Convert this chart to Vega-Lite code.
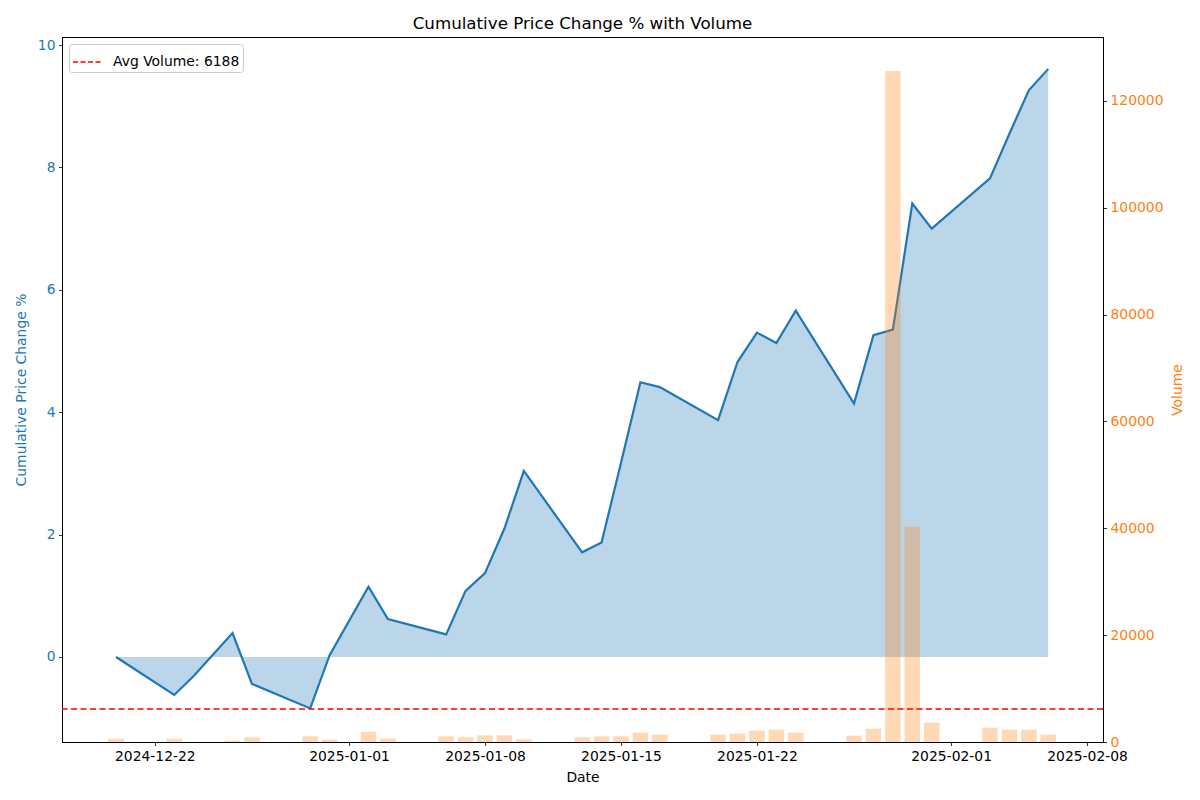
{
  "$schema": "https://vega.github.io/schema/vega-lite/v6.json",
  "width": 1041,
  "height": 705,
  "autosize": {"type": "none"},
  "padding": {"left": 62, "top": 37, "right": 97, "bottom": 58},
  "background": "white",
  "title": {"text": "Cumulative Price Change % with Volume", "fontSize": 16.7, "font": "DejaVu Sans", "fontWeight": "normal", "color": "black", "offset": 4},
  "config": {
    "font": "DejaVu Sans",
    "view": {"stroke": "black", "strokeWidth": 1},
    "axis": {"grid": false, "domainColor": "black", "domainWidth": 1, "tickColor": "black", "tickSize": 3.5, "tickWidth": 0.8, "labelFontSize": 13.9, "titleFontSize": 13.9, "titleFontWeight": "normal", "labelPadding": 3.5, "labelFont": "DejaVu Sans", "titleFont": "DejaVu Sans"}
  },
  "datasets": {
    "prices": [
      {"date": "2024-12-20", "pct": 0.0, "volume": 625},
      {"date": "2024-12-23", "pct": -0.62, "volume": 620},
      {"date": "2024-12-24", "pct": -0.31, "volume": 0},
      {"date": "2024-12-26", "pct": 0.39, "volume": 250},
      {"date": "2024-12-27", "pct": -0.44, "volume": 870},
      {"date": "2024-12-30", "pct": -0.84, "volume": 1056},
      {"date": "2024-12-31", "pct": 0.03, "volume": 435},
      {"date": "2025-01-02", "pct": 1.15, "volume": 1925},
      {"date": "2025-01-03", "pct": 0.62, "volume": 650},
      {"date": "2025-01-06", "pct": 0.37, "volume": 1061},
      {"date": "2025-01-07", "pct": 1.08, "volume": 874},
      {"date": "2025-01-08", "pct": 1.37, "volume": 1248},
      {"date": "2025-01-09", "pct": 2.10, "volume": 1248},
      {"date": "2025-01-10", "pct": 3.04, "volume": 499},
      {"date": "2025-01-13", "pct": 1.71, "volume": 874},
      {"date": "2025-01-14", "pct": 1.87, "volume": 1061},
      {"date": "2025-01-15", "pct": 3.17, "volume": 1061},
      {"date": "2025-01-16", "pct": 4.49, "volume": 1747},
      {"date": "2025-01-17", "pct": 4.41, "volume": 1373},
      {"date": "2025-01-20", "pct": 3.87, "volume": 1373},
      {"date": "2025-01-21", "pct": 4.82, "volume": 1560},
      {"date": "2025-01-22", "pct": 5.30, "volume": 2121},
      {"date": "2025-01-23", "pct": 5.13, "volume": 2309},
      {"date": "2025-01-24", "pct": 5.66, "volume": 1747},
      {"date": "2025-01-27", "pct": 4.14, "volume": 1186},
      {"date": "2025-01-28", "pct": 5.26, "volume": 2496},
      {"date": "2025-01-29", "pct": 5.35, "volume": 125600},
      {"date": "2025-01-30", "pct": 7.41, "volume": 40300},
      {"date": "2025-01-31", "pct": 7.00, "volume": 3619},
      {"date": "2025-02-03", "pct": 7.82, "volume": 2683},
      {"date": "2025-02-04", "pct": 8.55, "volume": 2309},
      {"date": "2025-02-05", "pct": 9.26, "volume": 2309},
      {"date": "2025-02-06", "pct": 9.61, "volume": 1373}
    ],
    "avg": [
      {"label": "Avg Volume: 6188", "avg": 6188}
    ]
  },
  "encoding": {
    "x": {
      "field": "date", "type": "temporal",
      "scale": {"type": "utc", "padding": 0, "domain": [
        {"year": 2024, "month": 12, "date": 17, "hours": 5, "minutes": 17, "utc": true},
        {"year": 2025, "month": 2, "date": 8, "hours": 19, "minutes": 40, "utc": true}
      ]},
      "axis": {
        "title": "Date", "titleColor": "black", "labelColor": "black", "format": "%Y-%m-%d", "labelAngle": 0, "titlePadding": 8,
        "values": [
          {"year": 2024, "month": 12, "date": 22, "utc": true},
          {"year": 2025, "month": 1, "date": 1, "utc": true},
          {"year": 2025, "month": 1, "date": 8, "utc": true},
          {"year": 2025, "month": 1, "date": 15, "utc": true},
          {"year": 2025, "month": 1, "date": 22, "utc": true},
          {"year": 2025, "month": 2, "date": 1, "utc": true},
          {"year": 2025, "month": 2, "date": 8, "utc": true}
        ]
      }
    }
  },
  "layer": [
    {
      "data": {"name": "prices"},
      "encoding": {
        "y": {"field": "pct", "type": "quantitative",
          "scale": {"domain": [-1.389, 10.131], "nice": false, "zero": false},
          "axis": {"title": "Cumulative Price Change %", "titleColor": "#1f77b4", "labelColor": "#1f77b4", "values": [0, 2, 4, 6, 8, 10], "titlePadding": 9, "orient": "left"}
        }
      },
      "layer": [
        {"mark": {"type": "area", "color": "#1f77b4", "opacity": 0.3}, "encoding": {"y2": {"datum": 0}}},
        {"mark": {"type": "line", "color": "#1f77b4", "strokeWidth": 2.2}, "encoding": {}}
      ]
    },
    {
      "encoding": {
        "y": {"type": "quantitative",
          "scale": {"domain": [0, 131981], "nice": false},
          "axis": {"title": "Volume", "titleColor": "#ff7f0e", "labelColor": "#ff7f0e", "format": "d", "values": [0, 20000, 40000, 60000, 80000, 100000, 120000], "orient": "right", "titleAngle": 270, "titlePadding": 21}
        }
      },
      "layer": [
        {"data": {"name": "prices"}, "mark": {"type": "bar", "color": "#ff7f0e", "opacity": 0.3, "size": 15.5}, "encoding": {"y": {"field": "volume", "type": "quantitative"}}},
        {"data": {"name": "avg"}, "mark": {"type": "rule", "strokeDash": [6, 3.5], "strokeWidth": 1.6}, "encoding": {
          "x": null,
          "y": {"field": "avg", "type": "quantitative"},
          "stroke": {"field": "label", "type": "nominal", "scale": {"range": ["red"]},
            "legend": {"title": null, "orient": "none", "legendX": 7, "legendY": 7, "symbolType": "stroke", "symbolDash": [5, 2.5], "symbolStrokeWidth": 1.6, "symbolSize": 784, "labelFontSize": 13.9, "labelFont": "DejaVu Sans", "labelColor": "black", "padding": 3, "strokeColor": "#cccccc", "fillColor": "rgba(255,255,255,0.8)", "cornerRadius": 3, "labelOffset": 11}
          }
        }}
      ]
    }
  ],
  "resolve": {"scale": {"y": "independent", "stroke": "independent"}}
}
